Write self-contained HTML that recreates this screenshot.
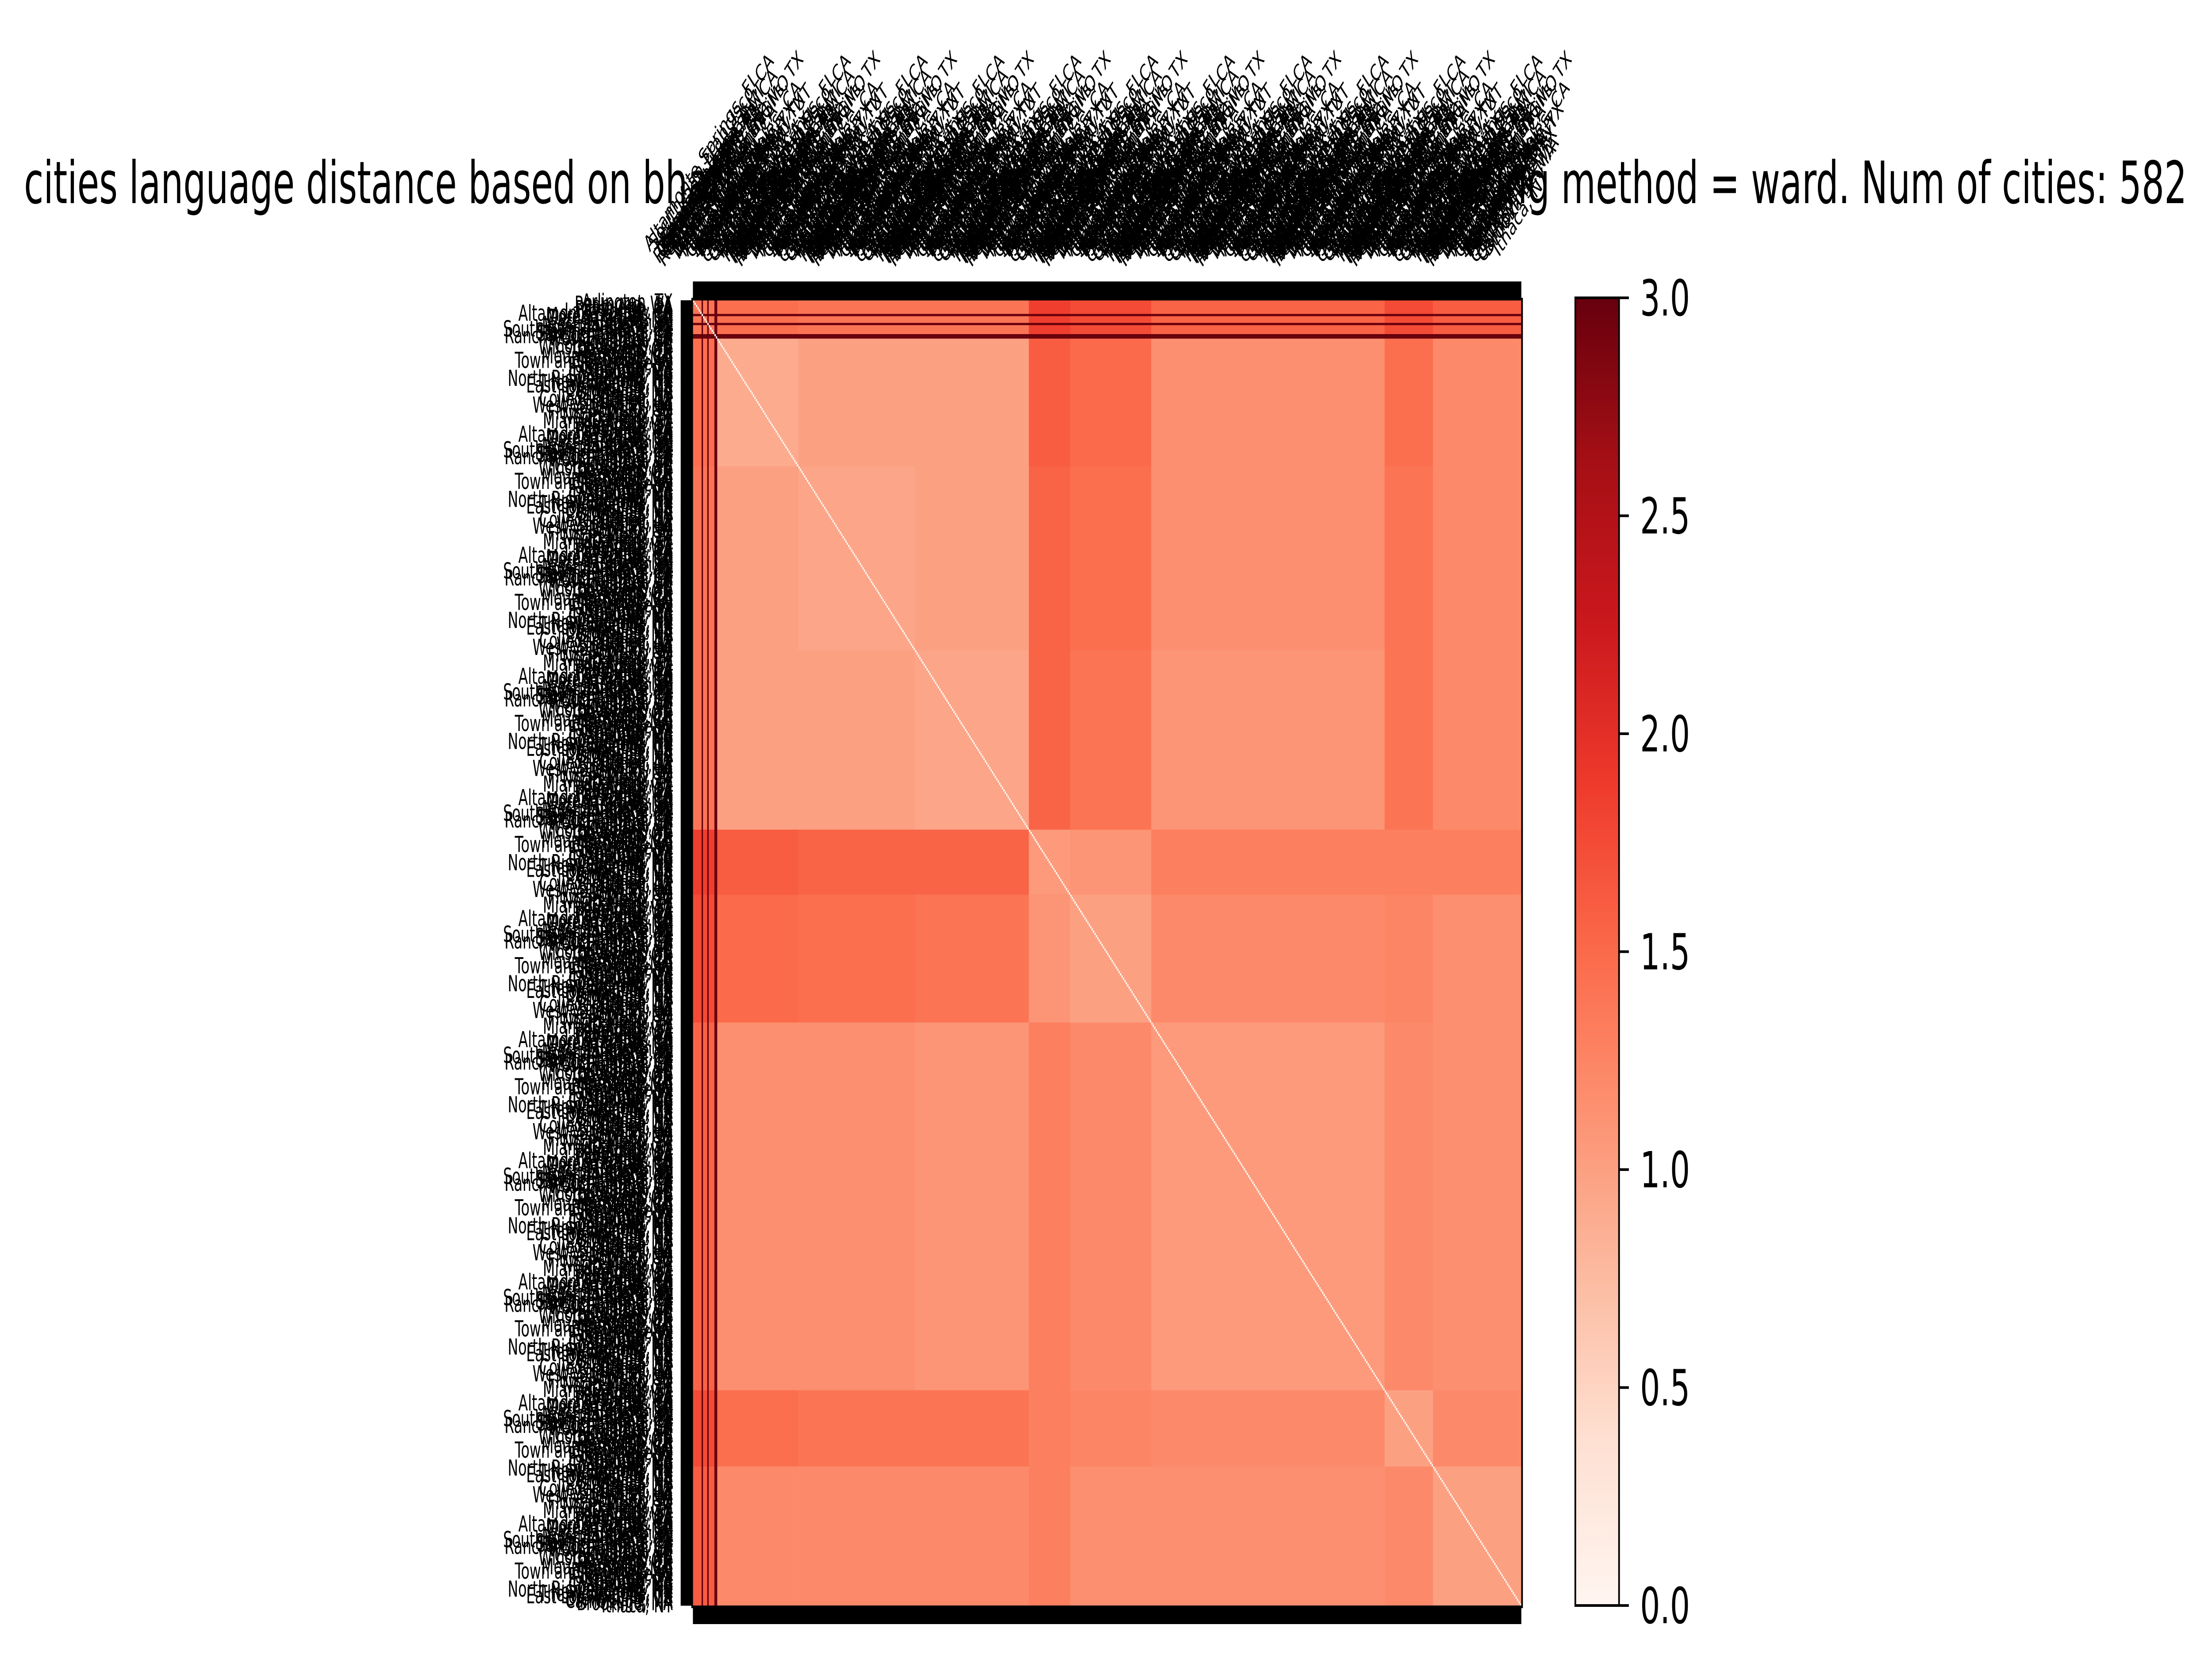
<!DOCTYPE html>
<html><head><meta charset="utf-8">
<title>cities language distance heatmap</title>
<style>
html,body{margin:0;padding:0;background:#fff;overflow:hidden;width:100vw;height:100vh;}
svg{display:block;width:100vw;height:100vh;}
text{font-family:"DejaVu Sans","Liberation Sans",sans-serif;}
</style></head>
<body>
<svg id="chart" xmlns="http://www.w3.org/2000/svg" viewBox="0 0 7890 3776" preserveAspectRatio="none" overflow="hidden">
  <defs>
    <linearGradient id="reds" x1="0" y1="1" x2="0" y2="0">
      <stop offset="0" stop-color="#fff5f0"/>
      <stop offset="0.125" stop-color="#fee0d2"/>
      <stop offset="0.25" stop-color="#fcbba1"/>
      <stop offset="0.375" stop-color="#fc9272"/>
      <stop offset="0.5" stop-color="#fb6a4a"/>
      <stop offset="0.625" stop-color="#ef3b2c"/>
      <stop offset="0.75" stop-color="#cb181d"/>
      <stop offset="0.875" stop-color="#a50f15"/>
      <stop offset="1" stop-color="#67000d"/>
    </linearGradient>
    <clipPath id="frameclip"><rect x="0" y="0" width="7890" height="3776"/></clipPath>
  </defs>
  <g clip-path="url(#frameclip)">
  <text x="3943" y="459" font-size="132" text-anchor="middle" textLength="7715" lengthAdjust="spacingAndGlyphs">cities language distance based on bhattacharyya distance of word vectors. clustering method = ward. Num of cities: 582</text>
  <g id="cells"></g>
  <g id="xlabels"></g>
  <g id="ylabels"></g>
  <g id="ticks"></g>
  <rect x="2469" y="676" width="2960" height="2955" fill="none" stroke="#000" stroke-width="6"/>
  <g>
    <rect x="5619" y="673" width="156" height="2955" fill="url(#reds)" stroke="#000" stroke-width="6"/>
    <g id="cbticks"></g>
  </g>
  </g>
</svg>
<script>
// ---- chart data ----
const N = 582;
const clusterStarts = [0, 17, 74, 156, 236, 265, 322, 486, 520];
const blockValues = [
  [1.40,1.45,1.40,1.40,1.85,1.75,1.55,1.75,1.60],
  [1.45,0.90,1.00,1.00,1.60,1.50,1.15,1.45,1.20],
  [1.40,1.00,0.95,1.00,1.55,1.45,1.15,1.40,1.20],
  [1.40,1.00,1.00,0.95,1.55,1.40,1.10,1.40,1.20],
  [1.85,1.60,1.55,1.55,1.05,1.10,1.30,1.30,1.30],
  [1.75,1.50,1.45,1.40,1.10,1.00,1.20,1.25,1.15],
  [1.55,1.15,1.15,1.10,1.30,1.20,1.05,1.20,1.15],
  [1.75,1.45,1.40,1.40,1.30,1.25,1.20,1.00,1.20],
  [1.60,1.20,1.20,1.20,1.30,1.15,1.15,1.20,1.00]
];
const outlierRows = [6, 10, 15, 16];
const outlierValues = [3.0, 3.0, 3.0, 3.0];
const colorbarTicks = [0.0, 0.5, 1.0, 1.5, 2.0, 2.5, 3.0];
const colorbarTickLabels = ["0.0","0.5","1.0","1.5","2.0","2.5","3.0"];
const cityNames = ["Arlington, TX","Quincy, MA","Melrose, MA","Cambridge, MA","West Hartford, CT","Newton, MA","Mountain View, CA","Redmond, WA","Chapel Hill, NC","Evanston, IL","Brookline, MA","Ann Arbor, MI","Boulder, CO","Berkeley, CA","Palo Alto, CA","Somerville, MA","West Lafayette, IN","Ithaca, NY","Iowa City, IA","Flower Mound, TX","Town and Country, MO","Pittsburgh, PA","North Richland Hills, TX","Boynton Beach, FL","Humble, TX","Coral Springs, FL","Plano, TX","Naperville, IL","Lake Forest, CA","New Rochelle, NY","South San Francisco, CA","College Station, TX","Winston-Salem, NC","North Miami, FL","Farmington, MI","Altamonte Springs, FL","The Woodlands, TX","Sterling Heights, MI","Detroit, MI","Cleveland, OH","Dayton, OH","Fort Worth, TX","Moreno Valley, CA","East Los Angeles, CA","San Bernardino, CA","Westminster, CA","Stockton, CA","Miami Gardens, FL","Compton, CA","Garden Grove, CA","Brownsville, TX","Rancho Cucamonga, CA","West Valley City, UT","Harlingen, TX"];

// ---- geometry ----
const X0 = 2472, Y0 = 679, W = 2954, H = 2949;
const cw = W / N, ch = H / N;
const xPos = i => X0 + i * cw;
const yPos = i => Y0 + i * ch;
const CB_TOP = 673, CB_BOT = 3628, CB_MAX = 3.0;
const cbY = v => CB_BOT - (v / CB_MAX) * (CB_BOT - CB_TOP);

const stops = ["#fff5f0","#fee0d2","#fcbba1","#fc9272","#fb6a4a","#ef3b2c","#cb181d","#a50f15","#67000d"];
function hex(c){return [parseInt(c.substr(1,2),16),parseInt(c.substr(3,2),16),parseInt(c.substr(5,2),16)];}
function colorOf(v){
  let t = Math.max(0, Math.min(1, v / CB_MAX)) * (stops.length - 1);
  let i = Math.min(stops.length - 2, Math.floor(t)), f = t - i;
  const a = hex(stops[i]), b = hex(stops[i+1]);
  return "rgb(" + a.map((x,k)=>Math.round(x + (b[k]-x)*f)).join(",") + ")";
}
const NS = "http://www.w3.org/2000/svg";
function mk(tag, attrs){ const e = document.createElementNS(NS, tag); for (const k in attrs) e.setAttribute(k, attrs[k]); return e; }

const cells = document.getElementById("cells");
const ends = clusterStarts.slice(1).concat([N]);
for (let r = 0; r < clusterStarts.length; r++) {
  for (let c = 0; c < clusterStarts.length; c++) {
    const el = mk("rect", {x: xPos(clusterStarts[c]), y: yPos(clusterStarts[r]),
      width: (ends[c]-clusterStarts[c])*cw + 0.5, height: (ends[r]-clusterStarts[r])*ch + 0.5,
      fill: colorOf(blockValues[r][c])});
    
    
    cells.appendChild(el);
  }
}
outlierRows.forEach((idx, k) => {
  const col = colorOf(outlierValues[k]);
  const row = mk("rect", {x: X0, y: yPos(idx), width: W, height: ch, fill: col});
  
  
  cells.appendChild(row);
  const cl = mk("rect", {x: xPos(idx), y: Y0, width: cw, height: H, fill: col});
  
  
  cells.appendChild(cl);
});
for (let i = 0; i < N; i++) {
  const d = mk("rect", {x: xPos(i), y: yPos(i), width: cw, height: ch, fill: colorOf(0)});
  
  
  cells.appendChild(d);
}

const xl = document.getElementById("xlabels"), yl = document.getElementById("ylabels"), tk = document.getElementById("ticks");
const FS = 50;
for (let i = 0; i < N; i++) {
  const name = cityNames[(i * 7) % cityNames.length];
  const cx = xPos(i) + cw/2, cy = yPos(i) + ch/2;
  const t = mk("text", {x: 2400, y: cy + FS*0.36, "font-size": FS, "text-anchor": "end"});
  t.textContent = name;
  
  
  yl.appendChild(t);
  const L = name.length * FS * 0.6;
  const half = L * 0.3536;
  const bx = cx, by = 586 - half;
  const t2 = mk("text", {x: 0, y: FS*0.36, "font-size": FS, "text-anchor": "middle",
    transform: "translate(" + bx + "," + by + ") rotate(-45)"});
  t2.textContent = name;
  
  
  xl.appendChild(t2);
  const l1 = mk("line", {x1: 2428, x2: 2469, y1: cy, y2: cy, stroke: "#000", "stroke-width": 6});
  
  
  tk.appendChild(l1);
  const l2 = mk("line", {x1: cx, x2: cx, y1: 636, y2: 676, stroke: "#000", "stroke-width": 6});
  
  
  tk.appendChild(l2);
  const l3 = mk("line", {x1: cx, x2: cx, y1: 3631, y2: 3670, stroke: "#000", "stroke-width": 6});
  
  
  tk.appendChild(l3);
}

const cbt = document.getElementById("cbticks");
colorbarTicks.forEach((v, k) => {
  const y = cbY(v);
  const ln = mk("line", {x1: 5775, x2: 5810, y1: y, y2: y, stroke: "#000", "stroke-width": 6});
  
  
  cbt.appendChild(ln);
  const tx = mk("text", {x: 5850, y: y + 40, "font-size": 112});
  tx.textContent = colorbarTickLabels[k];
  
  
  cbt.appendChild(tx);
});
</script>
</body></html>
